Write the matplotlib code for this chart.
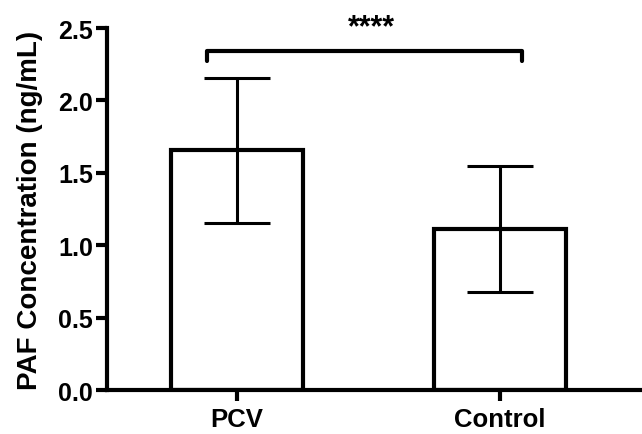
import matplotlib
matplotlib.use("Agg")
import matplotlib.pyplot as plt

# data
groups = ["PCV", "Control"]
means = [1.655, 1.11]
errors = [0.50, 0.435]
sig_label = "****"

plt.rcParams["font.family"] = ["Liberation Sans", "DejaVu Sans"]
plt.rcParams["font.weight"] = "bold"

fig = plt.figure(figsize=(6.42, 4.35), dpi=100)
ax = fig.add_axes([0.1667, 0.1011, 0.8333, 0.8322])

x = list(range(len(groups)))
ax.bar(x, means, width=0.50, color="white", edgecolor="black", linewidth=3, zorder=2)
ax.errorbar(x, means, yerr=errors, fmt="none", ecolor="black", elinewidth=2.2,
            capsize=24, capthick=2.2, zorder=3)

# significance bracket
bx0, bx1, by, tip = -0.114, 1.084, 2.34, 0.07
ax.plot([bx0, bx0, bx1, bx1], [by - tip, by, by, by - tip], color="black",
        linewidth=3, solid_capstyle="round", solid_joinstyle="round", clip_on=False)
ax.text(0.513, 2.45, sig_label, ha="center", va="baseline", fontsize=22,
        fontweight="bold", clip_on=False)

ax.set_xlim(-0.494, 1.54)
ax.set_ylim(0, 2.5)
ax.set_yticks([0.0, 0.5, 1.0, 1.5, 2.0, 2.5])
ax.set_yticklabels(["0.0", "0.5", "1.0", "1.5", "2.0", "2.5"])
ax.set_xticks(x)
ax.set_xticklabels(groups)
ax.set_ylabel("PAF Concentration (ng/mL)", fontsize=20, fontweight="bold", labelpad=11)

for s in ["top", "right"]:
    ax.spines[s].set_visible(False)
for s in ["left", "bottom"]:
    ax.spines[s].set_linewidth(3)
ax.tick_params(axis="y", width=3, length=8, labelsize=18, pad=2)
ax.tick_params(axis="x", width=3, length=8, labelsize=18.5, pad=4)
for lbl in ax.get_xticklabels() + ax.get_yticklabels():
    lbl.set_fontweight("bold")

fig.savefig("out.png", dpi=100)
